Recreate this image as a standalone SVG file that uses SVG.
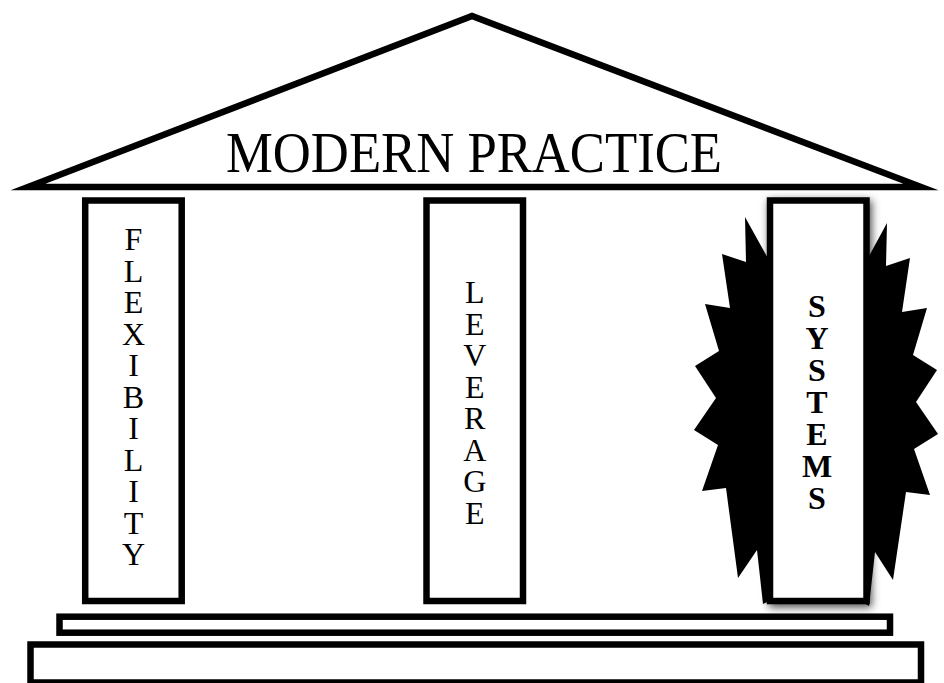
<svg xmlns="http://www.w3.org/2000/svg" width="944" height="683" viewBox="0 0 944 683">
<style>
.ln{fill:#fff;stroke:#000;stroke-width:6.5;stroke-linejoin:miter;stroke-miterlimit:12}
.col{fill:#fff;stroke:#000;stroke-width:6.5}
.lbl{font-family:"Liberation Serif","Times New Roman",serif;font-size:32px;fill:#000;text-anchor:middle}
.b{font-weight:bold}
.title{font-family:"Liberation Serif","Times New Roman",serif;font-size:58px;fill:#000}
</style>
<defs>
<filter id="sh" x="-30%" y="-10%" width="160%" height="120%">
<feDropShadow dx="2" dy="3" stdDeviation="4" flood-color="#000" flood-opacity="0.7"/>
</filter>
</defs>
<rect width="944" height="683" fill="#fff"/>
<g id="roof">
<polygon class="ln" points="28,187 472,16 921,187"/>
<text class="title" x="226" y="172" textLength="496" lengthAdjust="spacingAndGlyphs">MODERN PRACTICE</text>
</g>
<g id="starburst">
<polygon fill="#000" points="816,250 856,280 887,223 886,266 910,258 902,312 927,308 913,355 937,370 916,402 938,434 914,449 930,495 906,492 893,580 875,552 869,606 840,590 816,590 792,590 763,604 757,550 738,578 726,488 702,491 718,445 694,430 716,398 695,366 719,351 705,304 730,308 722,254 746,262 745,217 780,280"/>
</g>
<g id="flexibility">
<rect class="col" x="85.2" y="200.5" width="96.5" height="400.5"/>
<text class="lbl"><tspan x="133.5" y="250">F</tspan><tspan x="133.5" dy="31.5">L</tspan><tspan x="133.5" dy="31.5">E</tspan><tspan x="133.5" dy="31.5">X</tspan><tspan x="133.5" dy="31.5">I</tspan><tspan x="133.5" dy="31.5">B</tspan><tspan x="133.5" dy="31.5">I</tspan><tspan x="133.5" dy="31.5">L</tspan><tspan x="133.5" dy="31.5">I</tspan><tspan x="133.5" dy="31.5">T</tspan><tspan x="133.5" dy="31.5">Y</tspan></text>
</g>
<g id="leverage">
<rect class="col" x="426.5" y="200.5" width="96.5" height="400.5"/>
<text class="lbl"><tspan x="474.7" y="303">L</tspan><tspan x="474.7" dy="31.5">E</tspan><tspan x="474.7" dy="31.5">V</tspan><tspan x="474.7" dy="31.5">E</tspan><tspan x="474.7" dy="31.5">R</tspan><tspan x="474.7" dy="31.5">A</tspan><tspan x="474.7" dy="31.5">G</tspan><tspan x="474.7" dy="31.5">E</tspan></text>
</g>
<g id="systems">
<rect class="col" x="770" y="200.5" width="96.5" height="400.5" filter="url(#sh)"/>
<text class="lbl b"><tspan x="817" y="317">S</tspan><tspan x="817" dy="32">Y</tspan><tspan x="817" dy="32">S</tspan><tspan x="817" dy="32">T</tspan><tspan x="817" dy="32">E</tspan><tspan x="817" dy="32">M</tspan><tspan x="817" dy="32">S</tspan></text>
</g>
<g id="upper-step">
<rect class="col" x="59.5" y="616.7" width="830.5" height="16"/>
</g>
<g id="lower-step">
<rect class="col" x="30.5" y="644.5" width="890.5" height="38"/>
</g>
</svg>
